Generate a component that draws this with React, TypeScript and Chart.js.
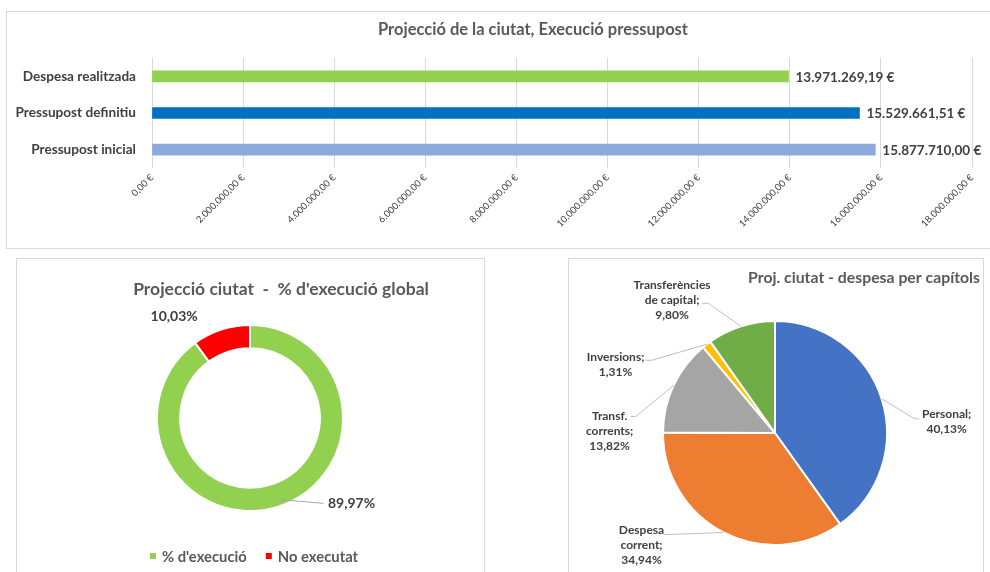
import React, { useEffect, useRef } from "react";
import { Chart, registerables } from "chart.js";

Chart.register(...registerables);

// ---------- DATA ----------
const budgetCategories = ["Despesa realitzada", "Pressupost definitiu", "Pressupost inicial"];
const budgetValues = [13971269.19, 15529661.51, 15877710.0];
const budgetColors = ["#92D050", "#0070C0", "#8EA9DB"];
const budgetAxisMin = 0;
const budgetAxisMax = 18000000;
const budgetAxisStep = 2000000;

const execLabels = ["% d'execució", "No executat"];
const execValues = [89.97, 10.03];
const execColors = ["#92D050", "#FF0000"];

const chapterLabels = ["Personal", "Despesa\ncorrent", "Transf.\ncorrents", "Inversions", "Transferències\nde capital"];
const chapterValues = [40.13, 34.94, 13.82, 1.31, 9.8];
const chapterColors = ["#4472C4", "#ED7D31", "#A5A5A5", "#FFC000", "#70AD47"];

const titleBudget = "Projecció de la ciutat, Execució pressupost";
const titleExec = "Projecció ciutat  -  % d'execució global";
const titleChapters = "Proj. ciutat - despesa per capítols";

// ---------- HELPERS ----------
const FONT = "Lato, 'Open Sans', sans-serif";

function fmtEuro(v: number): string {
  const fixed = Math.abs(v).toFixed(2);
  const [i, d] = fixed.split(".");
  const intS = i.replace(/\B(?=(\d{3})+(?!\d))/g, ".");
  return (v < 0 ? "-" : "") + intS + "," + d + " €";
}
function fmtPct(v: number): string {
  return v.toFixed(2).replace(".", ",") + "%";
}

// title plugin
const titlePlugin = {
  id: "boxTitle",
  afterDraw(chart: any, _a: any, opts: any) {
    if (!opts || !opts.text) return;
    const ctx = chart.ctx;
    ctx.save();
    ctx.font = opts.font;
    ctx.fillStyle = opts.color;
    ctx.textAlign = "center";
    ctx.textBaseline = "middle";
    ctx.fillText(opts.text, opts.x, opts.y);
    ctx.restore();
  },
};

// bar value labels
const barValuePlugin = {
  id: "barValues",
  afterDatasetsDraw(chart: any, _a: any, opts: any) {
    if (!opts || !opts.enabled) return;
    const ctx = chart.ctx;
    const meta = chart.getDatasetMeta(0);
    const data = chart.data.datasets[0].data;
    ctx.save();
    ctx.font = opts.font;
    ctx.fillStyle = opts.color;
    ctx.textAlign = "left";
    ctx.textBaseline = "middle";
    meta.data.forEach((bar: any, i: number) => {
      ctx.fillText(fmtEuro(data[i]), bar.x + opts.offset, bar.y + 1);
    });
    ctx.restore();
  },
};

// slice labels with leader lines
const sliceLabelPlugin = {
  id: "sliceLabels",
  afterDraw(chart: any, _a: any, opts: any) {
    if (!opts || !opts.layout) return;
    const ctx = chart.ctx;
    const meta = chart.getDatasetMeta(0);
    const data = chart.data.datasets[0].data;
    ctx.save();
    meta.data.forEach((arc: any, i: number) => {
      const s = opts.layout[i];
      if (!s) return;
      const p = arc.getProps(["x", "y", "startAngle", "endAngle", "outerRadius"], true);
      const mid = (p.startAngle + p.endAngle) / 2;
      const ax = p.x + Math.cos(mid) * p.outerRadius * s.r;
      const ay = p.y + Math.sin(mid) * p.outerRadius * s.r;
      if (s.line) {
        ctx.strokeStyle = opts.lineColor;
        ctx.lineWidth = 1;
        ctx.beginPath();
        ctx.moveTo(ax, ay);
        s.line.forEach((pt: number[]) => ctx.lineTo(ax + pt[0], ay + pt[1]));
        ctx.stroke();
      }
      const lines: string[] = opts.text(i, data[i]);
      ctx.font = opts.font;
      ctx.fillStyle = opts.color;
      ctx.textAlign = "center";
      ctx.textBaseline = "middle";
      const lh = opts.lineHeight;
      const y0 = ay + s.t[1] - ((lines.length - 1) * lh) / 2;
      lines.forEach((ln, k) => ctx.fillText(ln, ax + s.t[0], y0 + k * lh));
    });
    ctx.restore();
  },
};

// custom legend
const legendPlugin = {
  id: "boxLegend",
  afterDraw(chart: any, _a: any, opts: any) {
    if (!opts || !opts.enabled) return;
    const ctx = chart.ctx;
    const labels: string[] = chart.data.labels;
    const colors: string[] = chart.data.datasets[0].backgroundColor;
    ctx.save();
    ctx.font = opts.font;
    const widths = labels.map((l) => ctx.measureText(l).width);
    const itemW = widths.map((w) => opts.box + opts.boxGap + w);
    const total = itemW.reduce((a, b) => a + b, 0) + opts.itemGap * (labels.length - 1);
    let x = opts.cx - total / 2;
    ctx.textBaseline = "middle";
    ctx.textAlign = "left";
    labels.forEach((l, i) => {
      ctx.fillStyle = colors[i];
      ctx.fillRect(x, opts.y - opts.box / 2, opts.box, opts.box);
      ctx.fillStyle = opts.color;
      ctx.fillText(l, x + opts.box + opts.boxGap, opts.y + 1);
      x += itemW[i] + opts.itemGap;
    });
    ctx.restore();
  },
};

// ---------- CHART COMPONENTS ----------
function useChart(build: (c: HTMLCanvasElement) => Chart) {
  const ref = useRef<HTMLCanvasElement | null>(null);
  useEffect(() => {
    if (!ref.current) return;
    const ch = build(ref.current);
    return () => ch.destroy();
  }, []);
  return ref;
}

function BudgetChart() {
  const ref = useChart(
    (c) =>
      new Chart(c, {
        type: "bar",
        data: {
          labels: budgetCategories,
          datasets: [
            {
              data: budgetValues,
              backgroundColor: budgetColors,
              barThickness: 11,
            },
          ],
        },
        plugins: [titlePlugin, barValuePlugin],
        options: {
          indexAxis: "y",
          animation: false,
          responsive: false,
          maintainAspectRatio: false,
          layout: { padding: { top: 46, right: 18, bottom: 0, left: 0 } },
          scales: {
            x: {
              min: budgetAxisMin,
              max: budgetAxisMax,
              grid: { color: "#D9D9D9", drawTicks: false, lineWidth: 1 },
              border: { display: false },
              ticks: {
                stepSize: budgetAxisStep,
                minRotation: 45,
                maxRotation: 45,
                padding: 4,
                color: "#404040",
                font: { family: FONT, size: 9.5 },
                callback: (v: any) => fmtEuro(Number(v)),
              },
              afterFit: (s: any) => {
                s.height = 80;
                s.paddingLeft = 0;
                s.paddingRight = 0;
              },
            },
            y: {
              grid: { display: false },
              border: { display: false },
              ticks: {
                padding: 8,
                color: "#404040",
                font: { family: FONT, size: 13.6, weight: "bold" },
              },
              afterFit: (s: any) => {
                s.width = 145;
              },
            },
          },
          plugins: {
            legend: { display: false },
            tooltip: { enabled: false },
            boxTitle: {
              text: titleBudget,
              x: 526,
              y: 18,
              font: `bold 16.5px ${FONT}`,
              color: "#595959",
            },
            barValues: {
              enabled: true,
              offset: 7,
              font: `bold 13.5px ${FONT}`,
              color: "#404040",
            },
          } as any,
        },
      })
  );
  return <canvas ref={ref} width={983} height={236} style={{ display: "block" }} />;
}

function ExecChart() {
  const ref = useChart(
    (c) =>
      new Chart(c, {
        type: "doughnut",
        data: {
          labels: execLabels,
          datasets: [
            {
              data: execValues,
              backgroundColor: execColors,
              borderColor: "#FFFFFF",
              borderWidth: 2,
            },
          ],
        },
        plugins: [titlePlugin, sliceLabelPlugin, legendPlugin],
        options: {
          animation: false,
          responsive: false,
          maintainAspectRatio: false,
          cutout: "75%",
          layout: { padding: { left: 139, right: 140, top: 65, bottom: 60 } },
          plugins: {
            legend: { display: false },
            tooltip: { enabled: false },
            boxTitle: {
              text: titleExec,
              x: 264,
              y: 30,
              font: `bold 17.5px ${FONT}`,
              color: "#595959",
            },
            sliceLabels: {
              font: `bold 14px ${FONT}`,
              color: "#404040",
              lineColor: "#A6A6A6",
              lineHeight: 16,
              text: (_i: number, v: number) => [fmtPct(v)],
              layout: [
                { r: 0.92, t: [75, 4], line: [[47, 4]] },
                { r: 1, t: [-47, -13], line: null },
              ],
            },
            boxLegend: {
              enabled: true,
              cx: 237,
              y: 297,
              box: 6,
              boxGap: 6,
              itemGap: 19,
              font: `bold 14.8px ${FONT}`,
              color: "#595959",
            },
          } as any,
        },
      })
  );
  return <canvas ref={ref} width={467} height={313} style={{ display: "block" }} />;
}

function ChapterChart() {
  const ref = useChart(
    (c) =>
      new Chart(c, {
        type: "pie",
        data: {
          labels: chapterLabels,
          datasets: [
            {
              data: chapterValues,
              backgroundColor: chapterColors,
              borderColor: "#FFFFFF",
              borderWidth: 2,
            },
          ],
        },
        plugins: [titlePlugin, sliceLabelPlugin],
        options: {
          animation: false,
          responsive: false,
          maintainAspectRatio: false,
          layout: { padding: { left: 93, right: 95, top: 61, bottom: 26 } },
          plugins: {
            legend: { display: false },
            tooltip: { enabled: false },
            boxTitle: {
              text: titleChapters,
              x: 295,
              y: 19,
              font: `bold 15.8px ${FONT}`,
              color: "#595959",
            },
            sliceLabels: {
              font: `bold 12px ${FONT}`,
              color: "#404040",
              lineColor: "#BFBFBF",
              lineHeight: 15,
              text: (i: number, v: number) => {
                const parts = chapterLabels[i].split("\n");
                parts[parts.length - 1] += ";";
                return [...parts, fmtPct(v)];
              },
              layout: [
                { r: 1, t: [65, 23], line: [[33, 20], [38, 20]] },
                { r: 1, t: [-82, 13], line: [[-55, 2], [-60, 2]] },
                { r: 1, t: [-64, 46], line: [[-38, 31], [-43, 31]] },
                { r: 1, t: [-91, 20], line: [[-55, 16], [-61, 16]] },
                { r: 1, t: [-69, -26], line: [[-33, -23], [-39, -23]] },
              ],
            },
          } as any,
        },
      })
  );
  return <canvas ref={ref} width={414} height={313} style={{ display: "block" }} />;
}

export default function App() {
  const box: React.CSSProperties = {
    position: "absolute",
    border: "1px solid #D9D9D9",
    background: "#FFFFFF",
    boxSizing: "border-box",
    overflow: "hidden",
  };
  return (
    <div
      style={{
        position: "fixed",
        left: 0,
        top: 0,
        width: 990,
        height: 572,
        overflow: "hidden",
        background: "#FFFFFF",
      }}
    >
      <div style={{ ...box, left: 6, top: 11, width: 984, height: 238, borderRight: "none" }}>
        <BudgetChart />
      </div>
      <div style={{ ...box, left: 16, top: 258, width: 469, height: 330 }}>
        <ExecChart />
      </div>
      <div style={{ ...box, left: 568, top: 258, width: 416, height: 330 }}>
        <ChapterChart />
      </div>
    </div>
  );
}
